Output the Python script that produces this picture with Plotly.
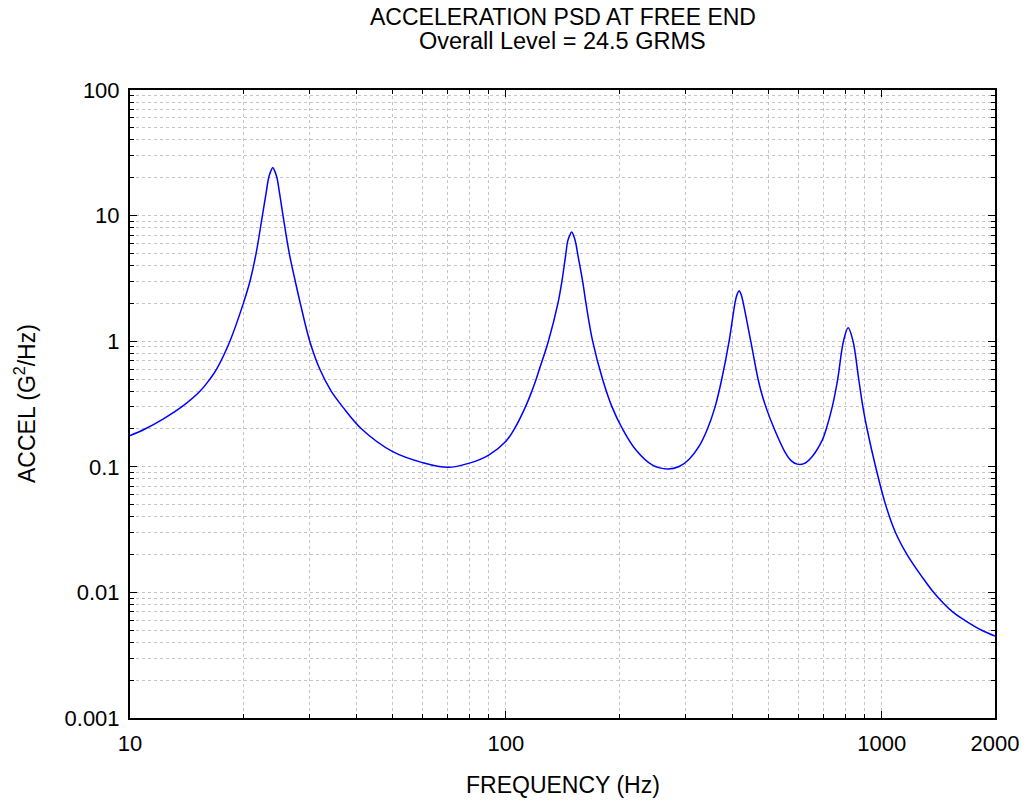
import plotly.graph_objects as go

# Frequency (Hz) and acceleration PSD (G^2/Hz)
freq = [10.0, 10.96, 12.24, 13.72, 15.35, 16.32, 17.0, 18.44, 20.02, 20.85, 21.65, 22.50,
        23.01, 23.38, 23.66, 23.98, 24.30, 24.60, 25.00, 25.53, 26.53, 27.52, 28.38,
        30.07, 31.97, 34.29, 36.79, 41.32, 50, 60, 70, 80, 90, 100,
        105.3, 112.7, 117.2, 120.4, 122.8, 129.7, 137.5, 140.9, 144.4, 145.9, 147.7,
        149.6, 151.4, 153.3, 155.1, 160.0, 163.3, 170.1, 180.7, 191.5, 204.3, 221.8,
        245.5, 269.0, 289.0, 307.2, 326.6, 343.6, 360.1, 375.2, 392.4, 407.1, 412.1,
        417.1, 422.3, 427.5, 448.0, 468.5, 477.2, 491.4, 517.6, 552.6, 573.3, 595.7,
        620.6, 653.0, 694.2, 711.4, 738.0, 763.2, 790.5, 813.7, 838.3,
        867.8, 890.4, 913.5, 962.6, 1023, 1087, 1167, 1279, 1374, 1543, 1662, 1844, 2000]
accel = [0.177, 0.20, 0.240, 0.30, 0.40, 0.50, 0.60, 1.0, 2.0, 3.0, 5.0, 10,
         15, 20, 22.4, 24.2, 22.4, 20, 15, 10, 5, 3, 2,
         1.0, 0.6, 0.4, 0.3, 0.2, 0.132, 0.108, 0.099, 0.107, 0.124, 0.16,
         0.2, 0.3, 0.4, 0.5, 0.6, 1.0, 2.0, 3.0, 5.0, 6.2, 6.92,
         7.4, 6.92, 6.1, 5.0, 3.0, 2.0, 1.0, 0.5, 0.3, 0.2, 0.136,
         0.103, 0.096, 0.1005, 0.115, 0.146, 0.2, 0.3, 0.5, 1.0, 2.04, 2.36,
         2.52, 2.36, 2.04, 1.0, 0.5, 0.4, 0.3, 0.2, 0.131, 0.112, 0.105,
         0.106, 0.121, 0.163, 0.2, 0.3, 0.5, 1.0, 1.28, 1.0,
         0.5, 0.3, 0.2, 0.1, 0.05, 0.03, 0.02, 0.0133, 0.01, 0.007, 0.006, 0.005, 0.0045]

x_tickvals = [10, 100, 1000, 2000]
x_ticktext = ["10", "100", "1000", "2000"]
y_tickvals = [0.001, 0.01, 0.1, 1, 10, 100]
y_ticktext = ["0.001", "0.01", "0.1", "1", "10", "100"]

title_line1 = "ACCELERATION PSD AT FREE END"
title_line2 = "Overall Level = 24.5 GRMS"
x_title = "FREQUENCY (Hz)"
y_title = "ACCEL (G<sup>2</sup>/Hz)"

FONT = "Liberation Sans, Arial, Helvetica, sans-serif"
GRID = "#c4c4c4"

fig = go.Figure()
fig.add_trace(go.Scatter(
    x=freq, y=accel, mode="lines",
    line=dict(color="#0000ff", width=1.5, shape="spline", smoothing=1.0),
    showlegend=False, hoverinfo="x+y",
))

axis_common = dict(
    type="log",
    showline=True, linecolor="black", linewidth=2, mirror="ticks",
    ticks="inside", ticklen=7, tickwidth=1, tickcolor="black",
    showgrid=True, gridcolor=GRID, griddash="dot", gridwidth=1,
    zeroline=False,
    tickfont=dict(family=FONT, size=22, color="black"),
    minor=dict(ticks="inside", ticklen=4, tickcolor="black", tickwidth=1,
               dtick="D1", showgrid=True, gridcolor=GRID, griddash="dot", gridwidth=1),
)

fig.update_xaxes(
    **axis_common,
    range=[1, 3.30103],
    tickmode="array", tickvals=x_tickvals, ticktext=x_ticktext,
    ticklabelstandoff=5,
)
fig.update_yaxes(
    **axis_common,
    range=[-3, 2],
    tickmode="array", tickvals=y_tickvals, ticktext=y_ticktext,
    ticklabelstandoff=4,
)

ann_font = dict(family=FONT, size=23, color="black")
fig.add_annotation(text=title_line1, x=0.5, y=1 + (90 - 17) / 628, xref="paper", yref="paper",
                   xanchor="center", yanchor="middle", showarrow=False, font=ann_font)
fig.add_annotation(text=title_line2, x=0.5, y=1 + (90 - 41) / 628, xref="paper", yref="paper",
                   xanchor="center", yanchor="middle", showarrow=False,
                   font=dict(family=FONT, size=23.5, color="black"))
fig.add_annotation(text=x_title, x=0.5, y=-(785 - 718) / 628, xref="paper", yref="paper",
                   xanchor="center", yanchor="middle", showarrow=False, font=ann_font)
fig.add_annotation(text=y_title, x=-(130 - 25) / 865, y=0.5, xref="paper", yref="paper",
                   xanchor="center", yanchor="middle", textangle=-90, showarrow=False,
                   font=ann_font)

fig.update_layout(
    width=1026, height=805,
    margin=dict(l=130, r=31, t=90, b=87, autoexpand=False),
    paper_bgcolor="white", plot_bgcolor="white",
    font=dict(family=FONT, size=22, color="black"),
)

fig.write_html("out.html",
               config={"displayModeBar": False},
               post_script="document.body.style.margin='0px';document.body.style.overflow='hidden';")
